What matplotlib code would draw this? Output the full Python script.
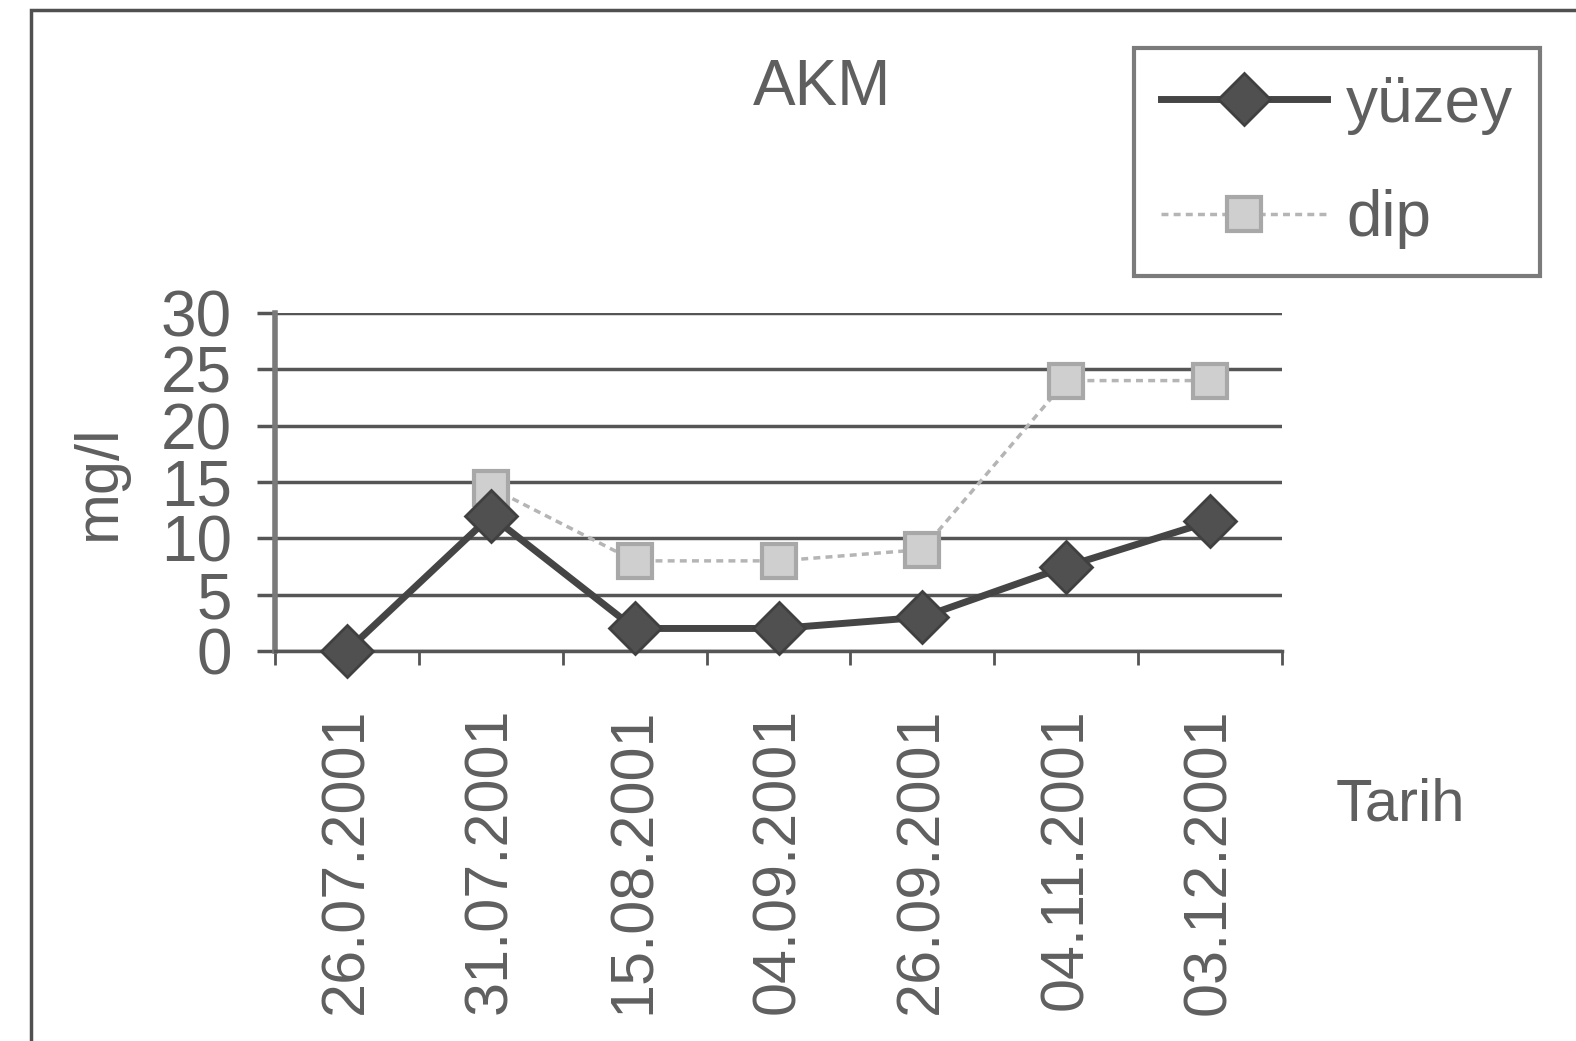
import numpy as np
import matplotlib
matplotlib.use("Agg")
import matplotlib.pyplot as plt
from matplotlib.patches import Rectangle

plt.rcParams['font.family'] = ['Liberation Sans', 'DejaVu Sans']

# AKM measurements (mg/l), surface and bottom samples
tarihler = ['26.07.2001', '31.07.2001', '15.08.2001', '04.09.2001',
            '26.09.2001', '04.11.2001', '03.12.2001']
yuzey = [0, 12, 2, 2, 3, 7.5, 11.5]
dip = [np.nan, 14.5, 8, 8, 9, 24, 24]
y_ticks = [0, 5, 10, 15, 20, 25, 30]

text_col = '#5f5f5f'
grid_col = '#555555'

fig = plt.figure(figsize=(15.76, 10.41), dpi=100)
ax = fig.add_axes([275/1576, 1 - 651/1041, (1282 - 275)/1576, (651 - 313)/1041])

x = np.arange(len(tarihler))
ax.plot(x, yuzey, color='#454545', lw=5, marker='D', markersize=26,
        markerfacecolor='#505050', markeredgecolor='#404040', markeredgewidth=2,
        label='yüzey', zorder=4, clip_on=False)
ax.plot(x, dip, color='#b5b5b5', lw=2.5, linestyle=(0, (2, 1.5)), marker='s',
        markersize=24, markerfacecolor='#cfcfcf', markeredgecolor='#a8a8a8',
        markeredgewidth=3, label='dip', zorder=3, clip_on=False)

ax.set_xlim(-0.5, len(tarihler) - 0.5)
ax.set_ylim(0, 30)
ax.set_yticks(y_ticks)
ax.set_yticklabels([str(v) for v in y_ticks])
ax.yaxis.grid(True, color=grid_col, lw=2.5)
ax.set_axisbelow(True)

ax.set_xticks(x)
ax.set_xticklabels(tarihler, rotation=90)
ax.set_xticks(np.arange(-0.5, len(tarihler)), minor=True)
ax.tick_params(axis='x', which='major', length=0, pad=41, labelsize=44,
               labelcolor=text_col)
ax.tick_params(axis='x', which='minor', length=10, width=2, color=grid_col,
               direction='out')
ax.tick_params(axis='y', length=13, width=2.5, color=grid_col, pad=18,
               labelsize=46, labelcolor=text_col)

for s in ['top', 'right']:
    ax.spines[s].set_visible(False)
ax.spines['left'].set_color('#7a7a7a')
ax.spines['left'].set_linewidth(4)
ax.spines['bottom'].set_color(grid_col)
ax.spines['bottom'].set_linewidth(2.5)

ax.set_ylabel('mg/l', fontsize=44, color=text_col, labelpad=24)

fig.text(822/1576, 1 - 88/1041, 'AKM', fontsize=46, color=text_col,
         ha='center', va='center')
fig.text(1400/1576, 1 - 805/1041, 'Tarih', fontsize=43, color=text_col,
         ha='center', va='center')

leg = ax.legend(loc='upper left', bbox_to_anchor=(1134/1576, 1 - 48/1041),
                bbox_transform=fig.transFigure, fontsize=46, frameon=True,
                fancybox=False, handlelength=2.6, handletextpad=0.3,
                labelspacing=0.85, borderpad=0.42, borderaxespad=0)
leg.get_frame().set_edgecolor('#5a5a5a')
leg.get_frame().set_linewidth(3)
for t in leg.get_texts():
    t.set_color(text_col)

# outer chart border
fig.patches.append(Rectangle((31/1576, -0.05), 1.2, 1 - 10/1041 + 0.05,
                             transform=fig.transFigure, fill=False,
                             edgecolor='#505050', lw=2.5))

fig.savefig('out.png', dpi=100)
